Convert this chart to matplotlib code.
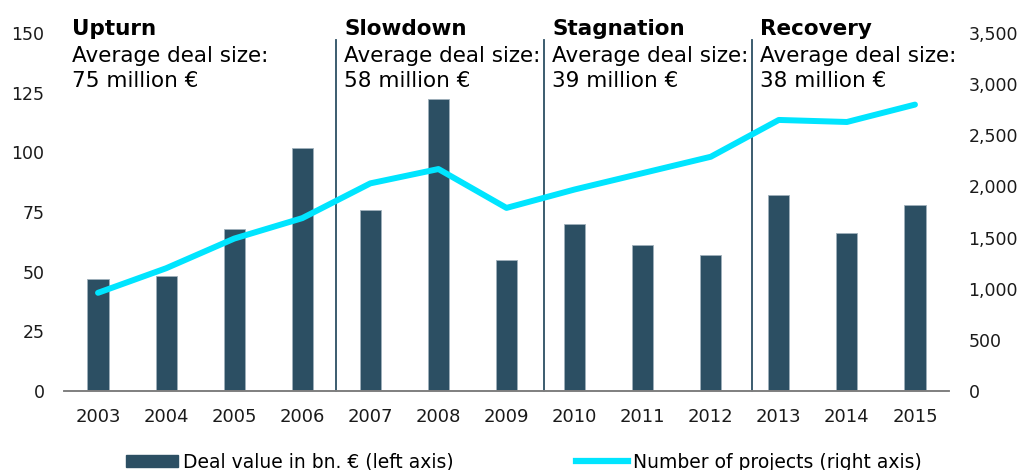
import matplotlib
matplotlib.use("Agg")
import matplotlib.pyplot as plt
from matplotlib.ticker import FuncFormatter
from matplotlib.patches import Patch
from matplotlib.lines import Line2D

# data
years = [2003, 2004, 2005, 2006, 2007, 2008, 2009, 2010, 2011, 2012, 2013, 2014, 2015]
deal_value = [47, 48, 68, 102, 76, 122.5, 55, 70, 61, 57, 82, 66, 78]
projects = [960, 1200, 1490, 1690, 2030, 2170, 1790, 1970, 2130, 2290, 2650, 2630, 2800]

phase_names = ["Upturn", "Slowdown", "Stagnation", "Recovery"]
phase_deal_size = ["75 million €", "58 million €", "39 million €", "38 million €"]
phase_bounds = [3.5, 6.55, 9.6]

BAR_COLOR = "#2c4f63"
LINE_COLOR = "#00e5ff"

plt.rcParams['font.family'] = ['DejaVu Sans']

fig = plt.figure(figsize=(10.23, 4.70), dpi=100)
ax = fig.add_axes([64 / 1023, (470 - 391) / 470, (949 - 64) / 1023, (391 - 33) / 470])
ax2 = ax.twinx()

x = list(range(len(years)))
ax.bar(x, deal_value, width=0.31, color=BAR_COLOR, edgecolor="#9fb0bb", linewidth=0.6, zorder=2)
ax2.plot(x, projects, color=LINE_COLOR, linewidth=4.3, solid_capstyle="round", zorder=3)

# phase separators
for b in phase_bounds:
    ax.plot([b, b], [0, 1.0 - 7 / 358], transform=ax.get_xaxis_transform(),
            color=BAR_COLOR, linewidth=1.3, zorder=1, clip_on=False)

starts = [-0.5] + phase_bounds
tr = ax.get_xaxis_transform()
for s, name, size in zip(starts, phase_names, phase_deal_size):
    ax.text(s + 0.12, 1.012, name, transform=tr, fontsize=15.5, fontweight="bold",
            va="center", ha="left", color="black")
    ax.text(s + 0.12, 0.936, "Average deal size:", transform=tr, fontsize=15.5,
            va="center", ha="left", color="black")
    ax.text(s + 0.12, 0.866, size, transform=tr, fontsize=15.5, va="center", ha="left",
            color="black")

ax.set_xlim(-0.5, len(years) - 0.5)
ax.set_ylim(0, 150)
ax2.set_ylim(0, 3500)
ax.set_yticks([0, 25, 50, 75, 100, 125, 150])
ax2.set_yticks(range(0, 3501, 500))
ax2.yaxis.set_major_formatter(FuncFormatter(lambda v, p: f"{int(v):,}"))
ax.set_xticks(x)
ax.set_xticklabels([str(y) for y in years])

for a in (ax, ax2):
    for side in ("top", "left", "right"):
        a.spines[side].set_visible(False)
    a.spines["bottom"].set_color("#7f7f7f")
    a.spines["bottom"].set_linewidth(1.2)
    a.tick_params(axis="y", length=0, labelsize=12.5, colors="#1a1a1a")
ax.tick_params(axis="y", pad=14)
ax2.tick_params(axis="y", pad=14)
ax.tick_params(axis="x", length=0, labelsize=13, pad=12, colors="#1a1a1a")

handles = [Patch(facecolor=BAR_COLOR, edgecolor=BAR_COLOR),
           Line2D([0], [0], color=LINE_COLOR, linewidth=4.5)]
fig.legend(handles, ["Deal value in bn. € (left axis)", "Number of projects (right axis)"],
           loc="center left", bbox_to_anchor=(109 / 1023, 0.017), ncol=2, frameon=False,
           fontsize=13.5, handlelength=2.8, handletextpad=0.25, columnspacing=6.5,
           handleheight=0.65)

fig.savefig("out.png", dpi=100)
